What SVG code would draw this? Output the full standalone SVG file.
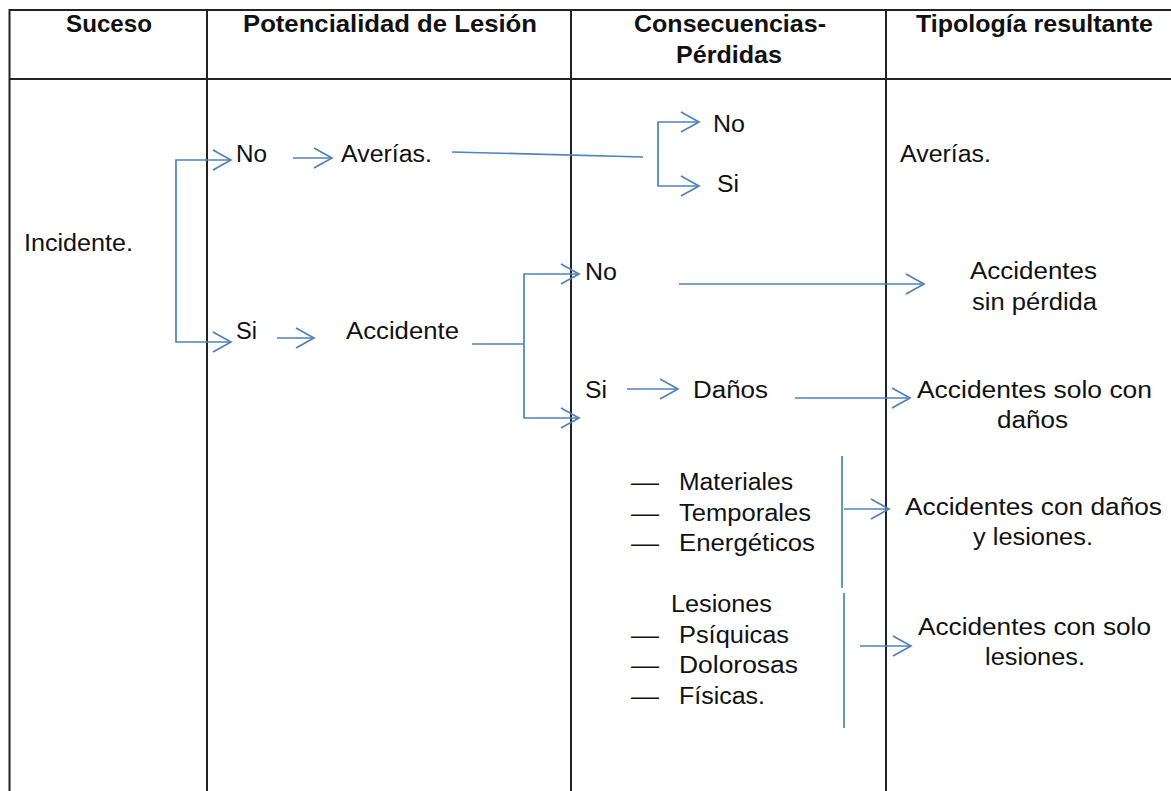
<svg xmlns="http://www.w3.org/2000/svg" width="1171" height="791" viewBox="0 0 1171 791">
<defs>
<style>
.tl{stroke:#222;stroke-width:2;fill:none}
.h{font-family:"Liberation Sans",Arial,sans-serif;font-weight:bold;font-size:24px;fill:#111}
.t{font-family:"Liberation Sans",Arial,sans-serif;font-size:23px;fill:#111}
.c{fill:none;stroke:#4f81bd;stroke-width:1.7}
.a{marker-end:url(#ah)}
</style>
<marker id="ah" markerUnits="userSpaceOnUse" markerWidth="22" markerHeight="24" viewBox="-2 -2 22 24" refX="18" refY="10" orient="auto">
<path d="M0,0 L18,10 L0,20" fill="none" stroke="#4f81bd" stroke-width="1.7"/>
</marker>
</defs>
<rect width="1171" height="791" fill="#fff"/>
<g id="table">
<path class="tl" d="M1171,10 H9.5 V791 M9.5,79 H1171 M207,10 V791 M571,10 V791 M886,10 V791"/>
</g>
<g id="headers">
<text class="h" x="66" y="32" textLength="86" lengthAdjust="spacingAndGlyphs">Suceso</text>
<text class="h" x="243" y="32" textLength="294" lengthAdjust="spacingAndGlyphs">Potencialidad de Lesión</text>
<text class="h" x="634" y="32" textLength="192" lengthAdjust="spacingAndGlyphs">Consecuencias-</text>
<text class="h" x="676" y="63" textLength="106" lengthAdjust="spacingAndGlyphs">Pérdidas</text>
<text class="h" x="916" y="32" textLength="237" lengthAdjust="spacingAndGlyphs">Tipología resultante</text>
</g>
<g id="n-incidente"><text class="t" x="24" y="251" textLength="109" lengthAdjust="spacingAndGlyphs">Incidente.</text></g>
<g id="n-no1"><text class="t" x="236" y="162" textLength="31" lengthAdjust="spacingAndGlyphs">No</text></g>
<g id="n-averias"><text class="t" x="341" y="162" textLength="91" lengthAdjust="spacingAndGlyphs">Averías.</text></g>
<g id="n-si1"><text class="t" x="236" y="339" textLength="21" lengthAdjust="spacingAndGlyphs">Si</text></g>
<g id="n-accidente"><text class="t" x="346" y="339" textLength="113" lengthAdjust="spacingAndGlyphs">Accidente</text></g>
<g id="n-no2"><text class="t" x="713" y="132" textLength="32" lengthAdjust="spacingAndGlyphs">No</text></g>
<g id="n-si2"><text class="t" x="717" y="192" textLength="22" lengthAdjust="spacingAndGlyphs">Si</text></g>
<g id="n-no3"><text class="t" x="585" y="280" textLength="32" lengthAdjust="spacingAndGlyphs">No</text></g>
<g id="n-si3"><text class="t" x="585" y="398" textLength="22" lengthAdjust="spacingAndGlyphs">Si</text></g>
<g id="n-danos"><text class="t" x="693" y="398" textLength="75" lengthAdjust="spacingAndGlyphs">Daños</text></g>
<g id="n-list1">
<text class="t" x="631" y="490" textLength="28" lengthAdjust="spacingAndGlyphs">—</text>
<text class="t" x="679" y="490" textLength="114" lengthAdjust="spacingAndGlyphs">Materiales</text>
<text class="t" x="631" y="521" textLength="28" lengthAdjust="spacingAndGlyphs">—</text>
<text class="t" x="679" y="521" textLength="132" lengthAdjust="spacingAndGlyphs">Temporales</text>
<text class="t" x="631" y="551" textLength="28" lengthAdjust="spacingAndGlyphs">—</text>
<text class="t" x="679" y="551" textLength="136" lengthAdjust="spacingAndGlyphs">Energéticos</text>
</g>
<g id="n-list2">
<text class="t" x="671" y="612" textLength="101" lengthAdjust="spacingAndGlyphs">Lesiones</text>
<text class="t" x="631" y="643" textLength="28" lengthAdjust="spacingAndGlyphs">—</text>
<text class="t" x="679" y="643" textLength="110" lengthAdjust="spacingAndGlyphs">Psíquicas</text>
<text class="t" x="631" y="673" textLength="28" lengthAdjust="spacingAndGlyphs">—</text>
<text class="t" x="679" y="673" textLength="119" lengthAdjust="spacingAndGlyphs">Dolorosas</text>
<text class="t" x="631" y="704" textLength="28" lengthAdjust="spacingAndGlyphs">—</text>
<text class="t" x="679" y="704" textLength="86" lengthAdjust="spacingAndGlyphs">Físicas.</text>
</g>
<g id="r-averias"><text class="t" x="900" y="162" textLength="91" lengthAdjust="spacingAndGlyphs">Averías.</text></g>
<g id="r-sinperdida">
<text class="t" x="970" y="279" textLength="127" lengthAdjust="spacingAndGlyphs">Accidentes</text>
<text class="t" x="972" y="310" textLength="125" lengthAdjust="spacingAndGlyphs">sin pérdida</text>
</g>
<g id="r-solodanos">
<text class="t" x="917" y="398" textLength="235" lengthAdjust="spacingAndGlyphs">Accidentes solo con</text>
<text class="t" x="997" y="428" textLength="71" lengthAdjust="spacingAndGlyphs">daños</text>
</g>
<g id="r-danoslesiones">
<text class="t" x="905" y="515" textLength="257" lengthAdjust="spacingAndGlyphs">Accidentes con daños</text>
<text class="t" x="973" y="545" textLength="120" lengthAdjust="spacingAndGlyphs">y lesiones.</text>
</g>
<g id="r-sololesiones">
<text class="t" x="918" y="635" textLength="233" lengthAdjust="spacingAndGlyphs">Accidentes con solo</text>
<text class="t" x="985" y="665" textLength="100" lengthAdjust="spacingAndGlyphs">lesiones.</text>
</g>
<g id="connectors">
<path class="c a" d="M176,250 V160 H231"/>
<path class="c a" d="M176,250 V342 H231"/>
<path class="c a" d="M293,158 H332"/>
<path class="c a" d="M277,338 H314"/>
<path class="c" d="M452,152 L643,157"/>
<path class="c a" d="M658,154 V122 H699"/>
<path class="c a" d="M658,154 V186 H699"/>
<path class="c" d="M472,344 H524"/>
<path class="c a" d="M524,344 V274 H579"/>
<path class="c a" d="M524,344 V418 H579"/>
<path class="c a" d="M679,284 H924"/>
<path class="c a" d="M627,389 H678"/>
<path class="c a" d="M795,398 H910"/>
<path class="c" d="M842,456 V588"/>
<path class="c a" d="M844,509 H889"/>
<path class="c" d="M844,593 V728"/>
<path class="c a" d="M860,646 H911"/>
</g>
</svg>
